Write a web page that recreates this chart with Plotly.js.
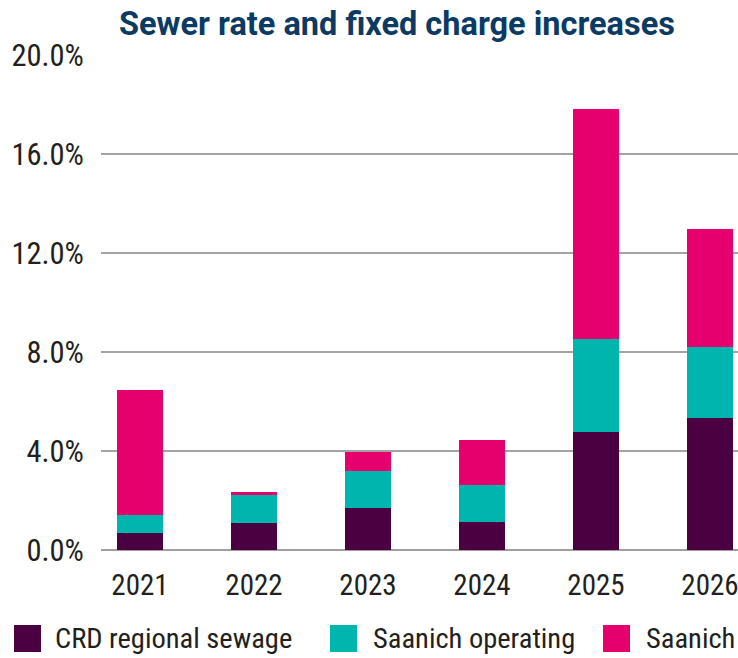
<!DOCTYPE html>
<html>
<head>
<meta charset="utf-8">
<script src="https://cdn.plot.ly/plotly-3.0.1.min.js"></script>
<style>html,body{margin:0;padding:0;background:#fff;}#chart{width:738px;height:658px;}</style>
</head>
<body>
<div id="chart"></div>
<script>
const years = ['2021', '2022', '2023', '2024', '2025', '2026'];
const seriesNames = ['CRD regional sewage', 'Saanich operating', 'Saanich'];
const crdRegional = [0.69, 1.09, 1.70, 1.13, 4.77, 5.33];
const saanichOperating = [0.72, 1.13, 1.49, 1.50, 3.76, 2.87];
const saanichCapital = [5.05, 0.12, 0.77, 1.81, 9.29, 4.77];
const yTickValues = [0, 4, 8, 12, 16, 20];
const yTickLabels = ['0.0%', '4.0%', '8.0%', '12.0%', '16.0%', '20.0%'];

const colors = ['#4b0042', '#00b5ad', '#e5006e'];
const condensed = "'Liberation Sans Narrow', 'Roboto Condensed', 'DejaVu Sans Condensed', 'Arial Narrow', sans-serif";
const seriesValues = [crdRegional, saanichOperating, saanichCapital];

const traces = seriesValues.map((vals, i) => ({
  type: 'bar',
  x: years,
  y: vals,
  name: seriesNames[i],
  marker: {color: colors[i], line: {width: 0}},
  showlegend: false,
  hoverinfo: 'skip'
}));

const W = 738, H = 658;
const L = 101, R = 0, T = 55, B = 108;
const pw = W - L - R, ph = H - T - B;
const px = v => (v - L) / pw;
const py = v => (H - B - v) / ph;

// custom legend (large square swatches)
const legendPos = [
  {sx: 14, tx: 53},
  {sx: 330, tx: 371},
  {sx: 603, tx: 644}
];
const shapes = [];
const annotations = [];
seriesNames.forEach((n, i) => {
  shapes.push({
    type: 'rect', xref: 'paper', yref: 'paper',
    x0: px(legendPos[i].sx), x1: px(legendPos[i].sx + 27),
    y0: py(625), y1: py(652),
    fillcolor: colors[i], line: {width: 0}, layer: 'above'
  });
  annotations.push({
    xref: 'paper', yref: 'paper',
    x: px(legendPos[i].tx), y: py(638),
    xanchor: 'left', yanchor: 'middle',
    text: n, showarrow: false,
    font: {family: condensed, size: 28.5, color: '#231f20'}
  });
});

const layout = {
  width: W, height: H,
  margin: {l: L, r: R, t: T, b: B, pad: 0},
  paper_bgcolor: '#ffffff',
  plot_bgcolor: '#ffffff',
  barmode: 'stack',
  bargap: 0.596,
  title: {
    text: 'Sewer rate and fixed charge increases',
    font: {family: 'Roboto, sans-serif', size: 32.5, color: '#0b3a63', weight: 700},
    x: 397 / W, xref: 'container', xanchor: 'center',
    y: 1 - 24 / H, yref: 'container', yanchor: 'middle'
  },
  xaxis: {
    type: 'category',
    range: [-0.342, 5.246],
    showgrid: false,
    zeroline: false,
    showline: false,
    ticks: 'outside', ticklen: 9, tickcolor: 'rgba(0,0,0,0)',
    tickfont: {family: condensed, size: 29, color: '#231f20'},
    fixedrange: true
  },
  yaxis: {
    range: [0, 20],
    tickmode: 'array',
    tickvals: yTickValues,
    ticktext: yTickLabels,
    showgrid: true,
    gridcolor: '#a3a3a3',
    gridwidth: 1.5,
    zeroline: true,
    zerolinecolor: '#a0a0a0',
    zerolinewidth: 2.5,
    showline: false,
    ticks: 'outside', ticklen: 10, tickcolor: 'rgba(0,0,0,0)',
    tickfont: {family: condensed, size: 30.5, color: '#231f20'},
    fixedrange: true
  },
  shapes: shapes,
  annotations: annotations,
  showlegend: false
};

Plotly.newPlot('chart', traces, layout, {displayModeBar: false, staticPlot: true});
</script>
</body>
</html>
